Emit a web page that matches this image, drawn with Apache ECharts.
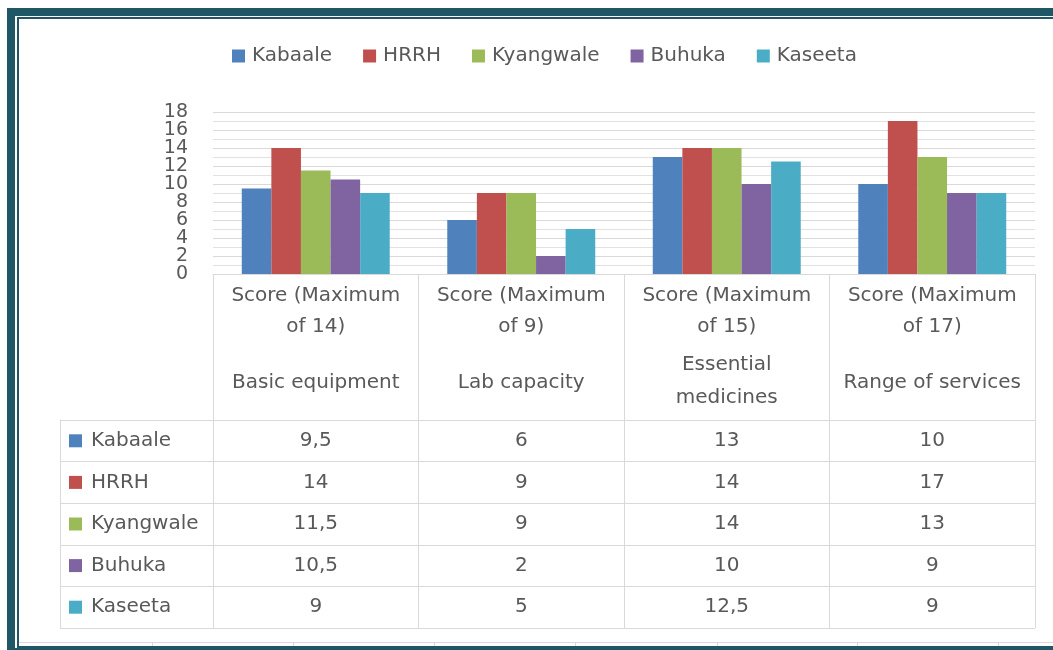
<!DOCTYPE html>
<html><head><meta charset="utf-8">
<style>html,body{margin:0;padding:0;background:#fff;} #chart{width:1053px;height:650px;}</style>
<script src="https://cdn.jsdelivr.net/npm/echarts@6/dist/echarts.min.js"></script>
</head><body><div id="chart"></div>
<script>
// ---- data ----
const categories = ["Basic equipment", "Lab capacity", "Essential\nmedicines", "Range of services"];
const maxScores = [14, 9, 15, 17];
const seriesNames = ["Kabaale", "HRRH", "Kyangwale", "Buhuka", "Kaseeta"];
const kabaale = [9.5, 6, 13, 10];
const hrrh = [14, 9, 14, 17];
const kyangwale = [11.5, 9, 14, 13];
const buhuka = [10.5, 2, 10, 9];
const kaseeta = [9, 5, 12.5, 9];
const yMin = 0, yMax = 18, yInterval = 2;

// ---- style ----
const colors = ["#4F81BD", "#C0504D", "#9BBB59", "#8064A2", "#4BACC6"];
const FONT = 'DejaVu Sans';
const TXT = '#595959';
const LINE = '#d9d9d9';
const TEAL = '#1f5766';

const seriesValues = [kabaale, hrrh, kyangwale, buhuka, kaseeta];
const fmt = v => String(v).replace('.', ',');

const tableCells = [];
seriesValues.forEach((vals, r) => vals.forEach((v, c) => tableCells.push([c, r])));

const markerRich = {};
colors.forEach((c, i) => {
  markerRich['m' + i] = {width: 13, height: 13, backgroundColor: c, verticalAlign: 'middle', fontSize: 1};
});
markerRich.t = {fontFamily: FONT, fontSize: 20, color: TXT, padding: [0, 0, 0, 9], verticalAlign: 'middle'};

// value axis labels are split over two identical axes (alternate ticks) so that
// the tightly packed labels are all kept, as in the reference
function valueAxis(parity, withGrid) {
  return {
    type: 'value', gridIndex: 0, min: yMin, max: yMax, interval: yInterval,
    position: 'left',
    axisLine: {show: false}, axisTick: {show: false},
    axisLabel: {margin: 25, color: TXT, fontFamily: FONT, fontSize: 19,
      showMinLabel: true, showMaxLabel: true,
      formatter: v => (Math.round((v - yMin) / yInterval) % 2 === parity ? String(v) : '')},
    splitLine: {show: withGrid, lineStyle: {color: LINE, width: 1}},
    minorTick: {show: false, splitNumber: 2},
    minorSplitLine: {show: withGrid, lineStyle: {color: '#e2e2e2', width: 1}}
  };
}

const chart = echarts.init(document.getElementById('chart'), null, {renderer: 'canvas'});
chart.setOption({
  animation: false,
  color: colors,
  textStyle: {fontFamily: FONT},
  legend: {
    data: seriesNames,
    left: 227, top: 41,
    icon: 'rect', itemWidth: 13, itemHeight: 13, itemGap: 31,
    textStyle: {fontFamily: FONT, fontSize: 20, color: TXT, padding: [0, 0, 0, 2]}
  },
  grid: [
    {left: 213, right: 18, top: 112, bottom: 376},
    {left: 213, right: 18, top: 420, bottom: 22}
  ],
  xAxis: [
    {
      type: 'category', gridIndex: 0, data: categories,
      axisLine: {show: true, lineStyle: {color: LINE, width: 1}},
      axisTick: {show: true, interval: 0, length: 146, lineStyle: {color: LINE, width: 1}},
      axisLabel: {
        interval: 0, margin: 6, color: TXT, fontFamily: FONT, fontSize: 20,
        formatter: (val, idx) => {
          const parts = String(val).split('\n');
          const key = parts.length > 1 ? 'b2' : 'b1';
          return '{h|Score (Maximum}\n{h|of ' + maxScores[idx] + ')}\n{g| }\n' +
            parts.map(s => '{' + key + '|' + s + '}').join('\n');
        },
        rich: {
          h: {fontFamily: FONT, fontSize: 20, color: TXT, lineHeight: 31},
          g: {fontSize: 4, lineHeight: 6},
          b1: {fontFamily: FONT, fontSize: 20, color: TXT, lineHeight: 69},
          b2: {fontFamily: FONT, fontSize: 20, color: TXT, lineHeight: 33}
        }
      }
    },
    {
      type: 'category', gridIndex: 1, data: categories,
      axisLine: {show: false}, axisTick: {show: false}, axisLabel: {show: false},
      splitLine: {show: true, interval: 0, lineStyle: {color: LINE, width: 1}}
    }
  ],
  yAxis: [
    valueAxis(0, true),
    {
      type: 'category', gridIndex: 1, inverse: true, data: seriesNames,
      position: 'left', offset: 153,
      axisLine: {show: true, lineStyle: {color: LINE, width: 1}},
      axisTick: {show: true, inside: true, interval: 0, length: 153, lineStyle: {color: LINE, width: 1}},
      axisLabel: {
        inside: true, margin: 9, interval: 0,
        formatter: (v, i) => '{m' + i + '| }{t|' + v + '}',
        rich: markerRich
      },
      splitLine: {show: true, interval: 0, lineStyle: {color: LINE, width: 1}}
    },
    valueAxis(1, false)
  ],
  series: seriesNames.map((name, i) => ({
    name, type: 'bar', xAxisIndex: 0, yAxisIndex: 0,
    data: seriesValues[i],
    barGap: '0%', barCategoryGap: '28%',
    itemStyle: {color: colors[i]}
  })).concat([{
    name: 'table', type: 'scatter', xAxisIndex: 1, yAxisIndex: 1,
    data: tableCells, symbolSize: 0, silent: true,
    itemStyle: {opacity: 1},
    label: {
      show: true, position: 'inside', color: TXT, opacity: 1, fontFamily: FONT, fontSize: 20,
      formatter: p => fmt(seriesValues[p.value[1]][p.value[0]])
    }
  }]),
  graphic: [
    {type: 'rect', z: 100, silent: true, shape: {x: 11, y: 12, width: 1100, height: 640},
      style: {fill: 'none', stroke: TEAL, lineWidth: 8}},
    {type: 'rect', z: 100, silent: true, shape: {x: 18, y: 18, width: 1100, height: 629},
      style: {fill: 'none', stroke: TEAL, lineWidth: 2}},
    {type: 'line', z: 90, silent: true, shape: {x1: 19, y1: 642.5, x2: 1053, y2: 642.5},
      style: {stroke: LINE, lineWidth: 1}}
  ].concat([152, 293, 434, 575, 717, 857, 998].map(x => ({
    type: 'line', z: 90, silent: true, shape: {x1: x + 0.5, y1: 642, x2: x + 0.5, y2: 646},
    style: {stroke: LINE, lineWidth: 1}
  })))
});
</script>
</body></html>
